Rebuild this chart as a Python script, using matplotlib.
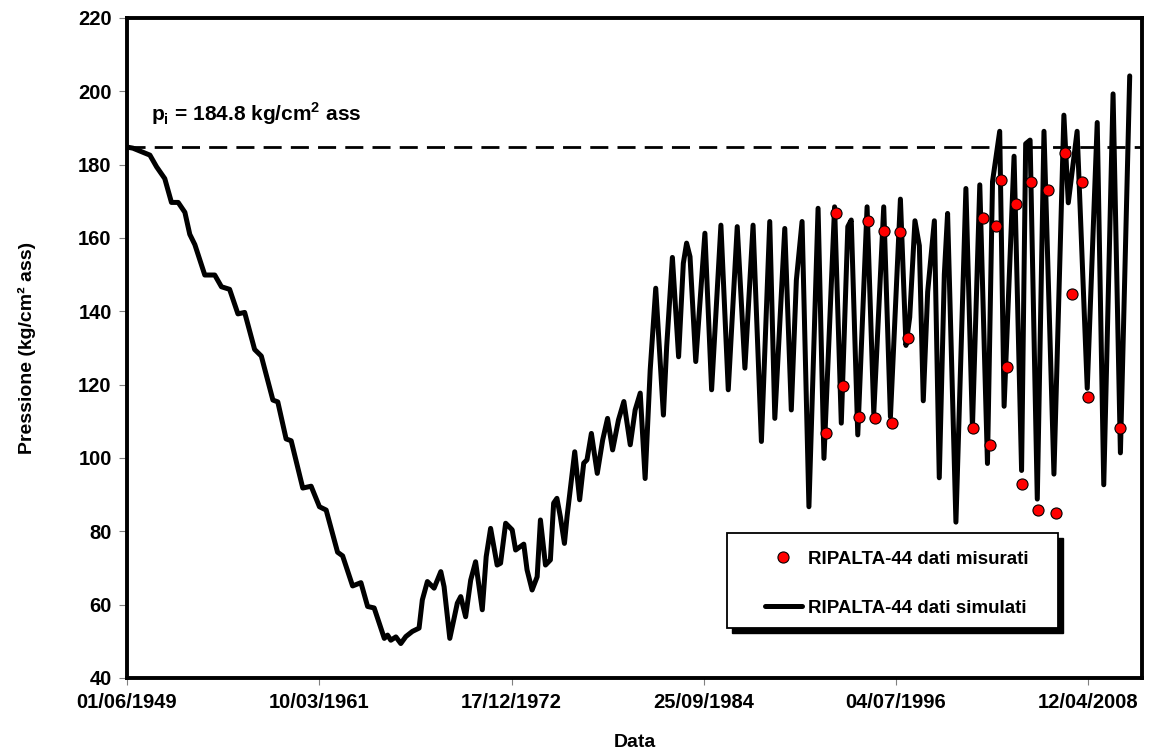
import matplotlib
matplotlib.use("Agg")
import matplotlib.pyplot as plt
from matplotlib.patches import Rectangle
from datetime import datetime, timedelta

plt.rcParams['font.family'] = ['Liberation Sans', 'DejaVu Sans']
plt.rcParams['mathtext.fontset'] = 'custom'
plt.rcParams['mathtext.rm'] = 'Liberation Sans'
plt.rcParams['mathtext.bf'] = 'Liberation Sans:bold'

# ---------------- data (decimal years, kg/cm2 ass) ----------------
sim_years = [1949.414, 1949.78, 1950.82, 1951.23, 1951.73, 1952.14, 1952.55, 1952.96, 1953.26, 1953.57,
             1954.18, 1954.79, 1955.20, 1955.70, 1956.21, 1956.62, 1957.23, 1957.64, 1958.35, 1958.65,
             1959.16, 1959.47, 1960.18, 1960.69, 1961.20, 1961.61, 1962.31, 1962.62, 1963.23, 1963.74,
             1964.15, 1964.55, 1965.17, 1965.37, 1965.57, 1965.88, 1966.18, 1966.49, 1966.89, 1967.30,
             1967.50, 1967.81, 1968.22, 1968.63, 1968.83, 1969.18, 1969.44, 1969.64, 1969.85, 1970.15,
             1970.46, 1970.76, 1971.17, 1971.41, 1971.68, 1972.08, 1972.29, 1972.60, 1973.00, 1973.21,
             1973.71, 1973.91, 1974.22, 1974.53, 1974.73, 1975.04, 1975.34, 1975.54, 1975.74, 1975.95,
             1976.20, 1976.36, 1976.83, 1977.13, 1977.38, 1977.58, 1977.85, 1978.21, 1978.54, 1978.84,
             1979.15, 1979.51, 1979.84, 1980.23, 1980.53, 1980.84, 1981.14, 1981.45, 1981.79, 1982.06,
             1982.26, 1982.46, 1982.81, 1983.19, 1983.48, 1983.68, 1983.89, 1984.24, 1984.80, 1985.21,
             1985.78, 1986.23, 1986.78, 1987.25, 1987.75, 1988.26, 1988.77, 1989.08, 1989.69, 1990.09,
             1990.40, 1990.75, 1991.17, 1991.73, 1992.09, 1992.74, 1993.15, 1993.55, 1993.76, 1994.16,
             1994.73, 1995.14, 1995.75, 1996.16, 1996.77, 1997.11, 1997.34, 1997.66, 1997.93, 1998.17,
             1998.44, 1998.85, 1999.15, 1999.46, 1999.66, 2000.17, 2000.78, 2001.18, 2001.63, 2002.10,
             2002.41, 2002.85, 2003.12, 2003.73, 2004.19, 2004.44, 2004.71, 2005.15, 2005.56, 2006.17,
             2006.78, 2007.05, 2007.59, 2008.21, 2008.82, 2009.22, 2009.79, 2010.24, 2010.81]
sim_values = [184.8, 184.5, 182.6, 179.4, 176.2, 169.7, 169.7, 167.0, 161.0, 158.2,
              149.9, 149.9, 146.7, 146.0, 139.3, 139.7, 129.6, 127.8, 115.8, 115.3,
              105.2, 104.7, 91.8, 92.3, 86.7, 85.8, 74.3, 73.3, 65.1, 66.0,
              59.5, 59.1, 50.8, 51.7, 50.3, 51.2, 49.4, 51.3, 52.7, 53.6,
              61.3, 66.3, 64.5, 69.0, 64.9, 50.8, 56.3, 60.4, 62.2, 56.7,
              66.7, 71.7, 58.6, 73.1, 80.8, 70.8, 71.3, 82.2, 80.4, 74.9,
              76.5, 69.5, 64.0, 67.6, 83.1, 70.8, 72.2, 87.7, 89.0, 84.0,
              76.7, 84.0, 101.7, 88.6, 98.6, 99.5, 106.7, 95.8, 104.9, 110.8,
              102.2, 110.4, 115.4, 103.6, 113.1, 117.7, 94.4, 124.0, 146.3, 126.7,
              111.7, 130.4, 154.7, 127.6, 153.1, 158.6, 154.9, 126.3, 161.3, 118.6,
              163.5, 118.6, 163.1, 124.5, 163.5, 104.5, 164.5, 110.8, 162.6, 113.1,
              148.5, 164.5, 86.7, 168.1, 99.9, 168.5, 109.5, 163.1, 164.9, 106.3,
              168.5, 112.2, 168.5, 111.2, 170.6, 130.7, 138.4, 164.7, 157.9, 115.6,
              145.3, 164.7, 94.6, 150.1, 166.7, 82.5, 173.5, 108.3, 174.5, 98.5,
              175.4, 189.1, 114.1, 182.3, 96.6, 185.7, 186.7, 88.8, 189.1, 95.6,
              193.5, 169.6, 189.1, 119.0, 191.5, 92.7, 199.3, 101.4, 204.2]

meas_years = [1992.23, 1992.80, 1993.23, 1994.22, 1994.78, 1995.22, 1995.75, 1996.24, 1996.77, 1997.26,
              2001.24, 2001.80, 2002.24, 2002.61, 2002.91, 2003.32, 2003.83, 2004.19, 2004.79, 2005.21,
              2005.82, 2006.27, 2006.84, 2007.25, 2007.86, 2008.25, 2010.24]
meas_values = [106.7, 166.9, 119.5, 111.1, 164.5, 111.0, 161.9, 109.5, 161.5, 132.8,
               108.3, 165.4, 103.6, 163.3, 175.7, 124.8, 169.4, 92.9, 175.2, 85.7,
               173.0, 85.1, 183.2, 144.8, 175.4, 116.7, 108.3]

p_initial = 184.8
tick_labels = ["01/06/1949", "10/03/1961", "17/12/1972", "25/09/1984", "04/07/1996", "12/04/2008"]
y_ticks = [40, 60, 80, 100, 120, 140, 160, 180, 200, 220]


def dec2dt(y):
    yr = int(y)
    s = datetime(yr, 1, 1)
    e = datetime(yr + 1, 1, 1)
    return s + (e - s) * (y - yr)


sim_dates = [dec2dt(v) for v in sim_years]
meas_dates = [dec2dt(v) for v in meas_years]
tick_dates = [datetime.strptime(t, "%d/%m/%Y") for t in tick_labels]
x_min = tick_dates[0]
x_max = tick_dates[0] + timedelta(days=22700)

# ---------------- figure ----------------
fig = plt.figure(figsize=(11.51, 7.56), dpi=100)
ax = fig.add_axes([0.1103, 0.1032, 0.8819, 0.8730])

line, = ax.plot(sim_dates, sim_values, color='black', lw=3.6, solid_joinstyle='round',
                solid_capstyle='round', zorder=3, label='RIPALTA-44 dati simulati')
dots, = ax.plot(meas_dates, meas_values, 'o', color='#ff0000', markeredgecolor='black',
                markeredgewidth=0.8, markersize=8, zorder=4, label='RIPALTA-44 dati misurati')
ax.plot([x_min, x_max], [p_initial, p_initial], color='black', lw=2, dashes=(6.5, 3.3), zorder=2)

ax.set_xlim(x_min, x_max)
ax.set_ylim(40, 220)
ax.set_yticks(y_ticks)
ax.set_yticklabels([str(v) for v in y_ticks], fontsize=14.5, fontweight='bold')
ax.set_xticks(tick_dates)
ax.set_xticklabels(tick_labels, fontsize=14.5, fontweight='bold')
ax.tick_params(axis='y', direction='out', length=6, width=0.8, color='#808080', pad=5)
ax.tick_params(axis='x', direction='out', length=5, width=0.8, color='#808080', pad=6)

for s in ax.spines.values():
    s.set_linewidth(2.8)
    s.set_color('black')

ax.set_ylabel('Pressione (kg/cm² ass)', fontsize=14, fontweight='bold', labelpad=30)
ax.set_xlabel('Data', fontsize=14, fontweight='bold', labelpad=16)

ax.text(0.024, 0.8545, r'p$_\mathbf{i}$ = 184.8 kg/cm$^\mathbf{2}$ ass', transform=ax.transAxes,
        fontsize=15, fontweight='bold', ha='left', va='center')

# legend box with shadow
bx0, by0, bw, bh = 0.591, 0.0760, 0.326, 0.1437
ax.add_patch(Rectangle((bx0 + 0.005, by0 - 0.0076), bw, bh, transform=ax.transAxes,
                       facecolor='black', edgecolor='black', zorder=5))
ax.add_patch(Rectangle((bx0, by0), bw, bh, transform=ax.transAxes,
                       facecolor='white', edgecolor='black', lw=1.3, zorder=6))
leg = ax.legend(handles=[dots, line], loc='upper left', bbox_to_anchor=(0.6246, 0.199),
                frameon=False, prop={'weight': 'bold', 'size': 13.5},
                handlelength=2.0, handletextpad=0.3, labelspacing=1.72, borderpad=0.2,
                borderaxespad=0.0)
leg.set_zorder(7)

fig.savefig('out.png', dpi=100)
